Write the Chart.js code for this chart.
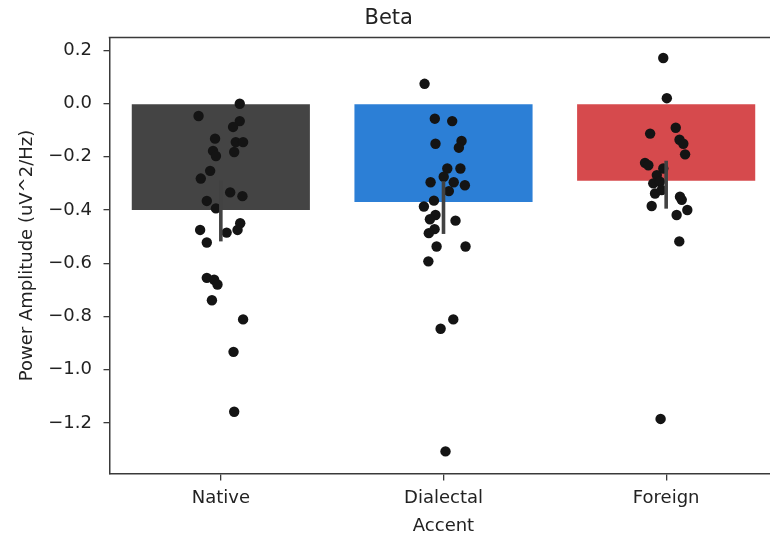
<!DOCTYPE html>
<html>
<head>
<meta charset="utf-8">
<script src="https://cdn.jsdelivr.net/npm/chart.js@4/dist/chart.umd.min.js"></script>
<style>
  html, body { margin: 0; padding: 0; background: #ffffff; overflow: hidden; }
  #wrap { width: 790px; height: 537px; }
</style>
</head>
<body>
<div id="wrap"><canvas id="chart" width="790" height="537"></canvas></div>
<script>
// Beta-band power by accent condition: group means with 95% CI and per-subject values.
const categories = ['Native', 'Dialectal', 'Foreign'];
const barColors = ['#444444', '#2c7fd6', '#d64a4d'];

const meanValues = [-0.400, -0.370, -0.290];
const ciLow = [-0.518, -0.490, -0.395];
const ciHigh = [-0.290, -0.292, -0.215];

const yTickValues = [0.2, 0.0, -0.2, -0.4, -0.6, -0.8, -1.0, -1.2];

// Per-subject values and their horizontal strip jitter (in category widths)
const nativeValues = [-0.001, -0.047, -0.066, -0.088, -0.132, -0.145, -0.145, -0.178, -0.182, -0.197,
  -0.253, -0.282, -0.334, -0.348, -0.366, -0.394, -0.450, -0.475, -0.475, -0.485,
  -0.522, -0.655, -0.662, -0.680, -0.739, -0.811, -0.933, -1.158];
const nativeJitter = [0.085, -0.100, 0.085, 0.055, -0.026, 0.067, 0.100, -0.035, 0.060, -0.022,
  -0.048, -0.090, 0.042, 0.097, -0.063, -0.022, 0.087, 0.075, -0.093, 0.026,
  -0.063, -0.063, -0.030, -0.015, -0.040, 0.100, 0.057, 0.060];

const dialectalValues = [0.074, -0.057, -0.066, -0.151, -0.141, -0.166, -0.244, -0.244, -0.275, -0.296,
  -0.296, -0.307, -0.329, -0.365, -0.387, -0.419, -0.435, -0.440, -0.472, -0.487,
  -0.537, -0.537, -0.593, -0.811, -0.846, -1.307];
const dialectalJitter = [-0.085, -0.039, 0.039, -0.036, 0.081, 0.069, 0.017, 0.076, 0.001, -0.058,
  0.046, 0.096, 0.024, -0.043, -0.088, -0.036, -0.061, 0.054, -0.040, -0.066,
  -0.031, 0.099, -0.068, 0.044, -0.013, 0.009];

const foreignValues = [0.171, 0.020, -0.091, -0.113, -0.136, -0.151, -0.191, -0.223, -0.232, -0.244,
  -0.269, -0.300, -0.294, -0.338, -0.325, -0.350, -0.362, -0.385, -0.400, -0.419,
  -0.518, -1.185];
const foreignJitter = [-0.013, 0.003, 0.043, -0.072, 0.060, 0.077, 0.085, -0.095, -0.080, -0.013,
  -0.042, -0.058, -0.028, -0.050, -0.020, 0.062, 0.070, -0.065, 0.095, 0.047,
  0.059, -0.025];

const groupValues = [nativeValues, dialectalValues, foreignValues];
const groupJitter = [nativeJitter, dialectalJitter, foreignJitter];

const stripPoints = [];
groupValues.forEach((vals, gi) => {
  vals.forEach((v, i) => stripPoints.push({ x: gi + groupJitter[gi][i], y: v }));
});

const FONT = 'DejaVu Sans';
const SPINE = '#3a3a3a';

const AXIS_LEFT = 109.5;
const AXIS_BOTTOM_SPACE = 63.5;

// Top spine (matplotlib-style frame) and confidence-interval lines
const framePlugin = {
  id: 'frame',
  afterDatasetsDraw(chart) {
    const { ctx, chartArea, scales } = chart;
    const y = scales.y, xs = scales.xs;
    ctx.save();
    ctx.strokeStyle = '#424242';
    ctx.lineWidth = 3.6;
    ctx.lineCap = 'butt';
    categories.forEach((c, i) => {
      const px = xs.getPixelForValue(i);
      ctx.beginPath();
      ctx.moveTo(px, y.getPixelForValue(ciHigh[i]));
      ctx.lineTo(px, y.getPixelForValue(ciLow[i]));
      ctx.stroke();
    });
    ctx.strokeStyle = SPINE;
    ctx.lineWidth = 1.5;
    ctx.beginPath();
    ctx.moveTo(chartArea.left - 0.75, chartArea.top);
    ctx.lineTo(chartArea.right, chartArea.top);
    ctx.moveTo(chartArea.right, chartArea.top);
    ctx.lineTo(chartArea.right, chartArea.bottom);
    ctx.stroke();
    ctx.restore();
  }
};

new Chart(document.getElementById('chart'), {
  data: {
    labels: categories,
    datasets: [
      {
        type: 'scatter',
        order: 0,
        xAxisID: 'xs',
        yAxisID: 'y',
        data: stripPoints,
        pointRadius: 5.2,
        pointBackgroundColor: '#141414',
        pointBorderWidth: 0,
        pointHoverRadius: 5.2
      },
      {
        type: 'bar',
        order: 1,
        xAxisID: 'x',
        yAxisID: 'y',
        data: meanValues,
        backgroundColor: barColors,
        borderWidth: 0,
        grouped: false,
        categoryPercentage: 0.8,
        barPercentage: 1.0
      }
    ]
  },
  options: {
    responsive: false,
    animation: false,
    events: [],
    layout: { padding: { left: 0, right: 12.5, top: 0, bottom: 0 } },
    plugins: {
      legend: { display: false },
      tooltip: { enabled: false },
      title: {
        display: true,
        text: 'Beta',
        color: '#222222',
        font: { family: FONT, size: 21, weight: 'normal' },
        padding: { top: 6.1, bottom: 6.2 }
      }
    },
    scales: {
      x: {
        type: 'category',
        position: 'bottom',
        offset: true,
        afterFit(scale) { scale.height = AXIS_BOTTOM_SPACE; },
        grid: { drawOnChartArea: false, drawTicks: true, tickLength: 7, tickColor: SPINE, offset: false, lineWidth: 1.3 },
        border: { display: true, color: SPINE, width: 1.5 },
        ticks: { color: '#222222', padding: 7.5, font: { family: FONT, size: 18 } },
        title: {
          display: true,
          text: 'Accent',
          color: '#222222',
          font: { family: FONT, size: 18 },
          padding: { top: 0, bottom: 0 }
        }
      },
      xs: {
        type: 'linear',
        display: false,
        min: -0.5,
        max: 2.5
      },
      y: {
        type: 'linear',
        position: 'left',
        min: -1.39,
        max: 0.248,
        afterFit(scale) { scale.width = AXIS_LEFT; },
        afterBuildTicks(scale) { scale.ticks = yTickValues.map(v => ({ value: v })); },
        grid: { drawOnChartArea: false, drawTicks: true, tickLength: 6, tickColor: SPINE, lineWidth: 1.3 },
        border: { display: true, color: SPINE, width: 1.5 },
        ticks: {
          color: '#222222',
          padding: 11.5,
          font: { family: FONT, size: 18 },
          callback: (v) => {
            const s = Number(v).toFixed(1);
            return s === '-0.0' ? '0.0' : s.replace('-', '\u2212');
          }
        },
        title: {
          display: true,
          text: 'Power Amplitude (uV^2/Hz)',
          color: '#222222',
          font: { family: FONT, size: 18 },
          padding: { top: 17, bottom: 0 }
        }
      }
    }
  },
  plugins: [framePlugin]
});
</script>
</body>
</html>
